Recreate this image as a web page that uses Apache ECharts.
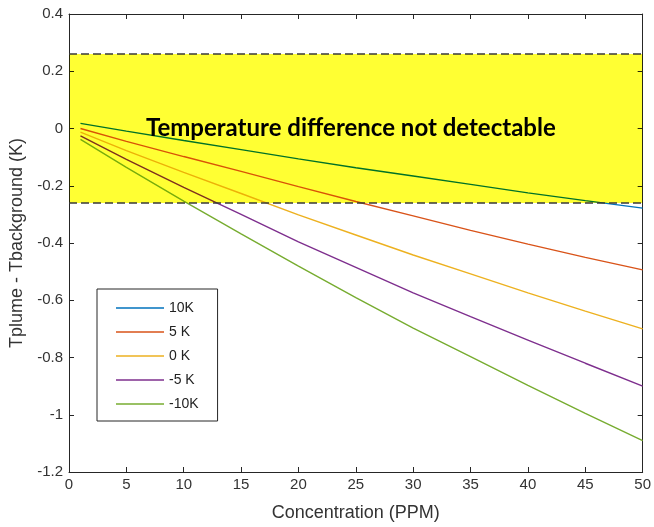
<!DOCTYPE html>
<html>
<head>
<meta charset="utf-8">
<script src="https://cdn.jsdelivr.net/npm/echarts@6/dist/echarts.min.js"></script>
<style>
  html, body { margin: 0; padding: 0; background: #fff; }
  #chart { width: 654px; height: 527px; }
</style>
</head>
<body>
<div id="chart"></div>
<script>
// Concentration (PPM) sample points
const concentration = [1, 5, 10, 15, 20, 25, 30, 35, 40, 45, 50];

// Tplume - Tbackground (K)
const dt10 = [0.018, -0.009, -0.042, -0.074, -0.106, -0.137, -0.166, -0.195, -0.225, -0.252, -0.278];
const dt5 = [0.0, -0.045, -0.098, -0.150, -0.203, -0.255, -0.305, -0.356, -0.404, -0.450, -0.494];
const dt0 = [-0.013, -0.077, -0.153, -0.227, -0.302, -0.372, -0.442, -0.508, -0.574, -0.638, -0.700];
const dtm5 = [-0.026, -0.108, -0.206, -0.300, -0.396, -0.485, -0.574, -0.657, -0.739, -0.820, -0.900];
const dtm10 = [-0.038, -0.136, -0.254, -0.368, -0.481, -0.591, -0.697, -0.797, -0.897, -0.995, -1.090];

const seriesNames = ['10K', '5 K', '0 K', '-5 K', '-10K'];
const seriesColors = ['#0072BD', '#D95319', '#EDB120', '#7E2F8E', '#77AC30'];

// detection limit band: [xStart, xEnd, low, high]
const bandLow = -0.26;
const bandHigh = 0.26;
const bandRange = [[0, 50, bandLow, bandHigh]];
const bandText = 'Temperature difference not detectable';

const axisColor = '#262626';
const chart = echarts.init(document.getElementById('chart'));

const lineSeries = [dt10, dt5, dt0, dtm5, dtm10].map((vals, i) => ({
  name: seriesNames[i],
  type: 'line',
  data: concentration.map((c, j) => [c, vals[j]]),
  symbol: 'none',
  color: seriesColors[i],
  lineStyle: { width: 1.4, color: seriesColors[i] },
  z: 2,
  silent: true
}));

// yellow box multiplied over the lines (that's how the original looks)
const bandSeries = {
  name: 'band',
  type: 'custom',
  z: 5,
  silent: true,
  blendMode: 'multiply',
  encode: { x: [0, 1], y: [2, 3] },
  data: bandRange,
  renderItem: function (params, api) {
    const p0 = api.coord([api.value(0), api.value(3)]);
    const p1 = api.coord([api.value(1), api.value(2)]);
    return {
      type: 'group',
      children: [
        {
          type: 'rect',
          shape: { x: p0[0], y: p0[1], width: p1[0] - p0[0], height: p1[1] - p0[1] },
          style: { fill: '#ffff33' }
        },
        {
          type: 'text',
          x: (p0[0] + p1[0]) / 2 - 5,
          y: (p0[1] + p1[1]) / 2,
          style: {
            text: bandText,
            fill: '#000',
            font: 'bold 24px Lato',
            align: 'center',
            verticalAlign: 'middle'
          }
        }
      ]
    };
  },
  markLine: {
    silent: true,
    z: 6,
    symbol: 'none',
    label: { show: false },
    lineStyle: { color: '#3a3a3a', type: [8, 4], width: 1.5 },
    data: [{ yAxis: bandLow }, { yAxis: bandHigh }]
  }
};

const tickFont = { fontFamily: 'Liberation Sans', fontSize: 15, color: '#333' };
const legendIcon = 'path://M0,0H48V1.4H0Z';

function boxAxis(extra) {
  return Object.assign({
    type: 'value',
    axisLine: { show: true, onZero: false, lineStyle: { color: axisColor } },
    axisTick: { inside: true, length: 5, lineStyle: { color: axisColor } },
    splitLine: { show: false }
  }, extra);
}

chart.setOption({
  animation: false,
  grid: { left: 69, right: 11, top: 14, bottom: 55 },
  legend: {
    data: seriesNames.map(n => ({ name: n, icon: legendIcon })),
    orient: 'vertical',
    left: 97,
    top: 289,
    itemWidth: 48,
    itemHeight: 14,
    itemGap: 10,
    padding: [12, 19, 10, 19],
    borderColor: axisColor,
    borderWidth: 1,
    backgroundColor: '#fff',
    textStyle: { fontFamily: 'Liberation Sans', fontSize: 14, color: '#222' },
    selectedMode: false
  },
  xAxis: [
    boxAxis({
      min: 0, max: 50, interval: 5, position: 'bottom',
      name: 'Concentration (PPM)', nameLocation: 'middle', nameGap: 32,
      nameTextStyle: { fontFamily: 'Liberation Sans', fontSize: 18, color: '#333' },
      axisLabel: Object.assign({ margin: 5 }, tickFont)
    }),
    boxAxis({
      min: 0, max: 50, interval: 5, position: 'top',
      axisLabel: { show: false }
    })
  ],
  yAxis: [
    boxAxis({
      min: -1.2, max: 0.4, interval: 0.2, position: 'left',
      name: 'Tplume - Tbackground (K)', nameLocation: 'middle', nameGap: 42,
      nameTextStyle: { fontFamily: 'Liberation Sans', fontSize: 18, color: '#333' },
      axisLabel: Object.assign({ margin: 6 }, tickFont)
    }),
    boxAxis({
      min: -1.2, max: 0.4, interval: 0.2, position: 'right',
      axisLabel: { show: false }
    })
  ],
  series: lineSeries.concat([bandSeries])
});
</script>
</body>
</html>
